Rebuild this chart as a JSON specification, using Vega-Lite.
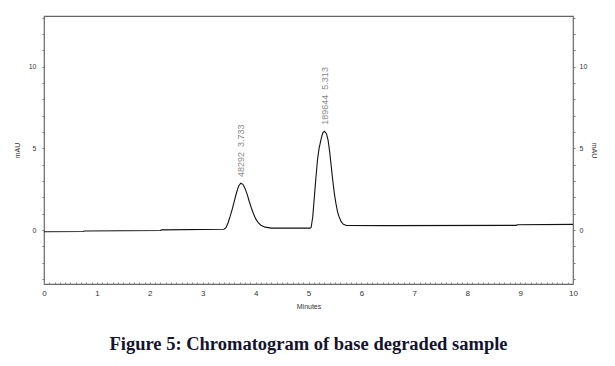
{
  "$schema": "https://vega.github.io/schema/vega-lite/v6.json",
  "autosize": {"type": "none"},
  "width": 529,
  "height": 268,
  "padding": {"left": 44, "top": 16, "right": 42, "bottom": 82},
  "background": "white",
  "view": {"stroke": "#666", "strokeWidth": 1.2},
  "title": {
    "text": "Figure 5: Chromatogram of base degraded sample",
    "orient": "bottom",
    "anchor": "middle",
    "font": "Liberation Serif",
    "fontSize": 18.5,
    "fontWeight": "bold",
    "color": "#14142e",
    "offset": 26
  },
  "datasets": {
    "trace": [
      {"t": 0.0, "v": -0.1}, {"t": 0.74, "v": -0.09}, {"t": 0.76, "v": -0.06},
      {"t": 2.2, "v": -0.03}, {"t": 2.22, "v": 0.01}, {"t": 3.4, "v": 0.05},
      {"t": 3.44, "v": 0.15}, {"t": 3.48, "v": 0.45}, {"t": 3.52, "v": 0.85},
      {"t": 3.56, "v": 1.3}, {"t": 3.6, "v": 1.8}, {"t": 3.64, "v": 2.3},
      {"t": 3.68, "v": 2.7}, {"t": 3.72, "v": 2.87}, {"t": 3.76, "v": 2.8},
      {"t": 3.8, "v": 2.55}, {"t": 3.84, "v": 2.2}, {"t": 3.88, "v": 1.75},
      {"t": 3.92, "v": 1.35}, {"t": 3.96, "v": 1.0}, {"t": 4.0, "v": 0.7},
      {"t": 4.05, "v": 0.45}, {"t": 4.1, "v": 0.3}, {"t": 4.18, "v": 0.18},
      {"t": 4.3, "v": 0.12}, {"t": 5.03, "v": 0.12}, {"t": 5.05, "v": 0.16},
      {"t": 5.08, "v": 0.8}, {"t": 5.11, "v": 2.0}, {"t": 5.14, "v": 3.2},
      {"t": 5.17, "v": 4.3}, {"t": 5.2, "v": 5.0}, {"t": 5.24, "v": 5.6},
      {"t": 5.27, "v": 5.95}, {"t": 5.3, "v": 6.04}, {"t": 5.34, "v": 5.9},
      {"t": 5.37, "v": 5.5}, {"t": 5.4, "v": 4.8}, {"t": 5.43, "v": 3.9},
      {"t": 5.46, "v": 3.0}, {"t": 5.49, "v": 2.2}, {"t": 5.52, "v": 1.6},
      {"t": 5.55, "v": 1.1}, {"t": 5.58, "v": 0.8}, {"t": 5.62, "v": 0.5},
      {"t": 5.66, "v": 0.35}, {"t": 5.72, "v": 0.28}, {"t": 6.5, "v": 0.27},
      {"t": 8.93, "v": 0.29}, {"t": 8.95, "v": 0.33}, {"t": 10.0, "v": 0.35}
    ],
    "peaks": [
      {"t": 3.733, "labelY": 3.25, "label": "48292\u00a0\u00a03.733"},
      {"t": 5.313, "labelY": 6.45, "label": "189644\u00a0\u00a05.313"}
    ]
  },
  "encoding": {
    "x": {
      "field": "t", "type": "quantitative",
      "scale": {"domain": [0, 10], "nice": false, "zero": false},
      "axis": {
        "title": "Minutes",
        "values": [0,0.1,0.2,0.3,0.4,0.5,0.6,0.7,0.8,0.9,1,1.1,1.2,1.3,1.4,1.5,1.6,1.7,1.8,1.9,2,2.1,2.2,2.3,2.4,2.5,2.6,2.7,2.8,2.9,3,3.1,3.2,3.3,3.4,3.5,3.6,3.7,3.8,3.9,4,4.1,4.2,4.3,4.4,4.5,4.6,4.7,4.8,4.9,5,5.1,5.2,5.3,5.4,5.5,5.6,5.7,5.8,5.9,6,6.1,6.2,6.3,6.4,6.5,6.6,6.7,6.8,6.9,7,7.1,7.2,7.3,7.4,7.5,7.6,7.7,7.8,7.9,8,8.1,8.2,8.3,8.4,8.5,8.6,8.7,8.8,8.9,9,9.1,9.2,9.3,9.4,9.5,9.6,9.7,9.8,9.9,10],
        "labelExpr": "datum.value % 1 === 0 ? format(datum.value, 'd') : ''",
        "tickSize": -2,
        "tickColor": "#888",
        "labelPadding": 7,
        "labelFont": "Liberation Sans",
        "labelFontSize": 8,
        "labelColor": "#333",
        "labelFlush": false,
        "labelOverlap": false,
        "domain": false,
        "grid": false,
        "titleFont": "Liberation Sans",
        "titleFontSize": 7,
        "titleFontWeight": "normal",
        "titleColor": "#333",
        "titlePadding": 5
      }
    }
  },
  "layer": [
    {
      "data": {"name": "trace"},
      "mark": {"type": "line", "color": "#111", "strokeWidth": 1.1, "clip": true},
      "encoding": {
        "y": {
          "field": "v", "type": "quantitative",
          "scale": {"domain": [-3.3, 13.1], "nice": false, "zero": false},
          "axis": {
            "title": "mAU",
            "values": [-3,-2,-1,0,1,2,3,4,5,6,7,8,9,10,11,12,13],
            "labelExpr": "datum.value % 5 === 0 ? datum.label : ''",
            "tickSize": 2,
            "tickColor": "#777",
            "labelPadding": 6,
            "labelFont": "Liberation Sans",
            "labelFontSize": 7,
            "labelColor": "#333",
            "labelOverlap": false,
            "domain": false,
            "grid": false,
            "titleFont": "Liberation Sans",
            "titleFontSize": 7,
            "titleFontWeight": "normal",
            "titleColor": "#333",
            "titlePadding": 8
          }
        }
      }
    },
    {
      "data": {"name": "peaks"},
      "mark": {"type": "text", "angle": 270, "align": "left", "baseline": "middle", "font": "Liberation Sans", "fontSize": 9, "color": "#8a8a8a"},
      "encoding": {
        "y": {
          "field": "labelY", "type": "quantitative",
          "axis": {
            "orient": "right",
            "title": "mAU",
            "titleAngle": 90,
            "values": [-3,-2,-1,0,1,2,3,4,5,6,7,8,9,10,11,12,13],
            "labelExpr": "datum.value % 5 === 0 ? datum.label : ''",
            "tickSize": 2,
            "tickColor": "#777",
            "labelPadding": 4,
            "labelFont": "Liberation Sans",
            "labelFontSize": 7,
            "labelColor": "#333",
            "labelOverlap": false,
            "domain": false,
            "grid": false,
            "titleFont": "Liberation Sans",
            "titleFontSize": 7,
            "titleFontWeight": "normal",
            "titleColor": "#333",
            "titlePadding": 4
          }
        },
        "text": {"field": "label"}
      }
    }
  ],
  "resolve": {"axis": {"y": "independent"}}
}
